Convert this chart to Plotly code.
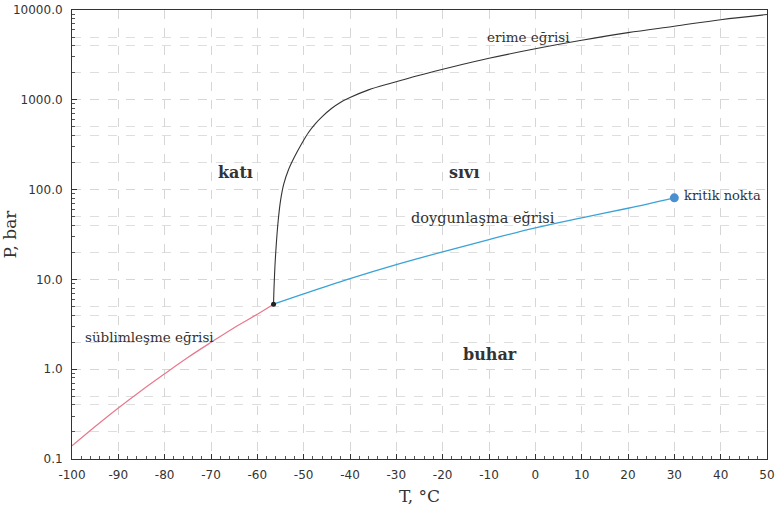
import plotly.graph_objects as go

# --- data ---
T_sub = [-100, -95, -90, -85, -80, -75, -70, -65, -60, -56.5]
P_sub = [0.14, 0.23, 0.37, 0.58, 0.89, 1.35, 1.99, 2.9, 4.1, 5.3]

T_sat = [-56.5, -50, -40, -30, -20, -10, 0, 10, 20, 30]
P_sat = [5.3, 6.9, 10.2, 14.6, 20.3, 27.8, 37.5, 48.5, 62, 81]

T_melt = [-56.5, -56.4, -56.2, -55.9, -55.5, -55.0, -54.3, -53.3, -52.0, -50.5, -49,
          -47.5, -46, -44, -42, -40, -36, -31, -25, -18, -10, 0, 10, 20, 30, 40, 50]
P_melt = [5.3, 8, 14, 25, 45, 75, 115, 165, 230, 320, 430,
          540, 650, 800, 940, 1060, 1290, 1540, 1880, 2320, 2900, 3700, 4600, 5600, 6600, 7800, 8900]

triple_T, triple_P = [-56.5], [5.3]
crit_T, crit_P = [30.0], [81]

x_ticks = list(range(-100, 51, 10))
y_ticks = [0.1, 1, 10, 100, 1000, 10000]
y_tick_text = ["0.1", "1.0", "10.0", "100.0", "1000.0", "10000.0"]
y_grid_minor = [m * 10 ** e for e in range(-1, 4) for m in (2, 4, 5)]
y_all_minor = [m * 10 ** e for e in range(-1, 4) for m in range(2, 10)]

labels = [
    # text, T, log10(P), size, bold, anchor
    ("erime eğrisi", -1.5, 3.70, 13.5, False, "center"),
    ("katı", -64.8, 2.19, 16, True, "center"),
    ("sıvı", -15.5, 2.19, 16, True, "center"),
    ("doygunlaşma eğrisi", -11.2, 1.684, 14.5, False, "center"),
    ("kritik nokta", 31.6, 1.929, 13, False, "left"),
    ("süblimleşme eğrisi", -97.7, 0.36, 13.5, False, "left"),
    ("buhar", -9.7, 0.16, 16, True, "center"),
]

serif = "DejaVu Serif"
sans = "DejaVu Sans"

fig = go.Figure()
fig.add_trace(go.Scatter(x=T_sub, y=P_sub, mode="lines", line=dict(color="#e8788c", width=1.2),
                         line_shape="spline", showlegend=False))
fig.add_trace(go.Scatter(x=T_sat, y=P_sat, mode="lines", line=dict(color="#3aa3d6", width=1.3),
                         line_shape="spline", showlegend=False))
fig.add_trace(go.Scatter(x=T_melt, y=P_melt, mode="lines", line=dict(color="#333333", width=1.1),
                         line_shape="spline", showlegend=False))
fig.add_trace(go.Scatter(x=triple_T, y=triple_P, mode="markers",
                         marker=dict(color="#222222", size=5), showlegend=False))
fig.add_trace(go.Scatter(x=crit_T, y=crit_P, mode="markers",
                         marker=dict(color="#4a90d0", size=9), showlegend=False))
# helper trace on overlay axis for the minor tick marks
fig.add_trace(go.Scatter(x=[x_ticks[0]], y=[1], yaxis="y2", mode="markers",
                         marker=dict(opacity=0), showlegend=False, hoverinfo="skip"))

for text, tx, ty, size, bold, anchor in labels:
    fig.add_annotation(x=tx, y=ty, xref="x", yref="y", text=f"<b>{text}</b>" if bold else text,
                       showarrow=False, xanchor=anchor, yanchor="middle",
                       font=dict(family=serif, size=size, color="#333333"))

fig.update_layout(
    width=775, height=522,
    margin=dict(l=72, r=8, t=10, b=63),
    paper_bgcolor="white", plot_bgcolor="white",
    xaxis=dict(
        range=[-100, 50], tickvals=x_ticks, ticktext=[str(v) for v in x_ticks],
        showgrid=True, gridcolor="#d6d6d6", griddash="dash", gridwidth=1,
        showline=True, linecolor="#333333", linewidth=1, mirror=True,
        ticks="inside", ticklen=5, tickcolor="#333333", ticklabelstandoff=5,
        ticklabeloverflow="allow",
        minor=dict(dtick=2, ticks="inside", ticklen=3, tickcolor="#555555", showgrid=False),
        tickfont=dict(family=sans, size=12, color="#333333"),
        title=dict(text="T, °C", font=dict(family=serif, size=17, color="#333333"), standoff=8),
        zeroline=False, automargin=False,
    ),
    yaxis=dict(
        type="log", range=[-1, 4], tickvals=y_ticks, ticktext=y_tick_text,
        showgrid=True, gridcolor="#d6d6d6", griddash="dash", gridwidth=1,
        showline=True, linecolor="#333333", linewidth=1, mirror=True,
        ticks="inside", ticklen=5, tickcolor="#333333", ticklabelstandoff=6,
        ticklabeloverflow="allow",
        minor=dict(tickmode="array", tickvals=y_grid_minor, ticks="", showgrid=True,
                   gridcolor="#dedede", griddash="dash", gridwidth=1),
        tickfont=dict(family=sans, size=12, color="#333333"),
        title=dict(text="P, bar", font=dict(family=serif, size=17, color="#333333"), standoff=0),
        zeroline=False, automargin=False,
    ),
    yaxis2=dict(
        type="log", range=[-1, 4], overlaying="y", side="left", anchor="x",
        tickvals=y_all_minor, ticks="inside", ticklen=3, tickcolor="#555555",
        showticklabels=False, showgrid=False, showline=False, zeroline=False,
        automargin=False,
    ),
)

fig.write_html("out.html", config={"displayModeBar": False},
               post_script="document.body.style.margin='0';")
